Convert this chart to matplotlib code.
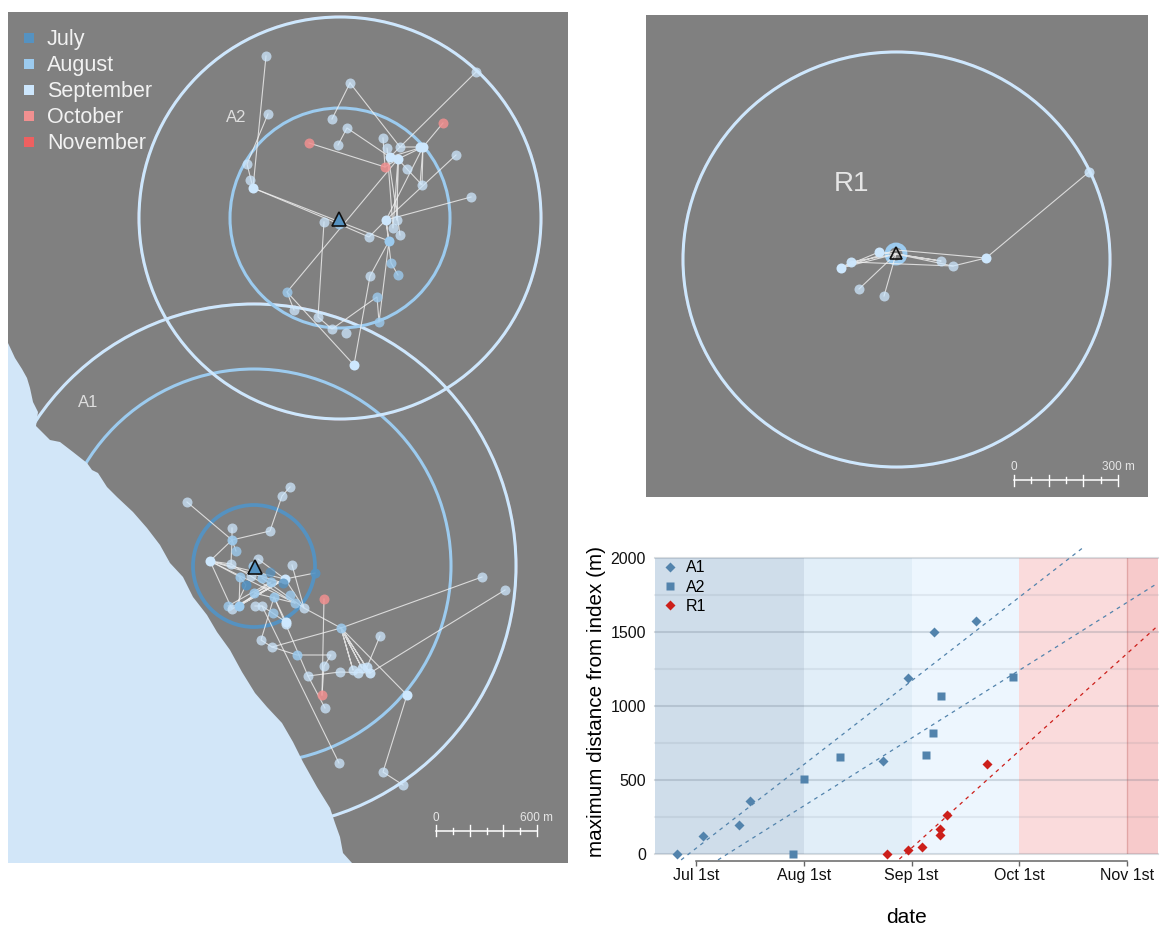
#! /usr/bin/env python3
# -*- Coding: UTF-8 -*-

import matplotlib
matplotlib.use("Agg")
import matplotlib.pyplot as plt
from matplotlib.patches import Circle, Ellipse, Polygon, Rectangle

plt.rcParams["font.family"] = ["Liberation Sans", "DejaVu Sans"]

W, H = 1162, 927

month_names = ["July", "August", "September", "October", "November"]
month_colors = ["#5592C1", "#9CCBEF", "#CDE7FD", "#F19090", "#EE6060"]
month_y = [38, 64, 90, 116, 142]

coast_x = [8, 15, 22, 27, 30, 33, 38, 36, 42, 50, 60, 73, 87, 92, 98, 107, 117, 133, 147, 160, 170, 183, 193, 207, 217,
           230, 242, 255, 267, 282, 293, 303, 317, 330, 335, 340, 343, 352, 8]
coast_y = [343, 358, 369, 378, 388, 402, 412, 426, 432, 440, 442, 452, 463, 470, 473, 487, 497, 512, 528, 545, 563, 577, 597, 615, 632,
           650, 672, 693, 707, 723, 742, 762, 787, 808, 823, 837, 853, 863, 863]

a2_x = [266, 268, 247, 250, 253, 350, 332, 347, 338, 309, 385, 443, 476, 383, 387, 390, 398, 400, 423, 420, 407, 422, 456, 471,
        386, 397, 393, 400, 324, 339, 369, 389, 391, 398, 370, 287, 377, 294, 318, 332, 346, 379, 354]
a2_y = [56, 114, 164, 180, 188, 83, 119, 128, 145, 143, 167, 123, 72, 138, 148, 157, 159, 147, 147, 147, 169, 185, 155, 197,
        220, 220, 228, 235, 222, 224, 237, 241, 263, 275, 276, 292, 297, 310, 317, 329, 333, 322, 365]
a2_month = [2, 2, 2, 2, 2, 2, 2, 2, 2, 3, 3, 3, 2, 2, 2, 2, 2, 2, 2, 2, 2, 2, 2, 2,
            2, 2, 2, 2, 2, 1, 2, 1, 1, 1, 2, 1, 1, 2, 2, 2, 2, 1, 2]
a2_alpha = [.75, .75, .75, .75, 1, .75, .75, .75, .75, .85, .85, .85, .75, .75, .75, 1, 1, .75, 1, 1, .75, .75, .75, .75,
            1, .75, .75, .75, .75, .8, .75, 1, .8, .8, .75, .8, .8, .75, .75, .75, .75, .8, 1]
a2_tracks = [
    [(266, 56), (253, 188), (389, 241), (370, 276), (354, 365), (287, 292), (398, 159), (385, 167), (309, 143)],
    [(268, 114), (247, 164), (253, 188), (339, 224), (369, 237), (386, 220), (456, 155)],
    [(287, 292), (294, 310)],
    [(324, 222), (318, 317), (332, 329), (377, 297), (379, 322), (389, 241), (386, 220), (391, 263), (398, 275)],
    [(350, 83), (332, 119)],
    [(350, 83), (400, 147), (476, 72)],
    [(338, 145), (347, 128), (390, 157), (423, 147), (443, 123)],
    [(383, 138), (385, 167)],
    [(390, 157), (400, 147), (423, 147), (398, 159), (397, 220), (398, 159), (393, 228), (387, 148), (400, 235)],
    [(471, 197), (386, 220), (423, 147), (422, 185), (407, 169), (398, 159)],
    [(423, 147), (420, 185)],
]

a1_x = [187, 290, 282, 270, 232, 232, 236, 210, 231, 258, 292, 253, 270, 240, 251, 262, 271, 285, 283, 246, 254, 290, 274, 295,
        304, 228, 232, 239, 255, 262, 273, 286, 286, 315, 261, 272, 341, 482, 505, 380, 331, 297, 324, 308, 340, 353, 358, 362,
        367, 370, 407, 325, 339, 383, 403, 324, 322]
a1_y = [502, 487, 496, 531, 528, 540, 551, 561, 564, 559, 565, 566, 572, 577, 576, 578, 582, 579, 583, 585, 593, 595, 597, 603,
        608, 606, 609, 606, 606, 606, 613, 622, 624, 573, 640, 647, 628, 577, 590, 636, 655, 655, 666, 676, 672, 670, 673, 668,
        667, 673, 695, 708, 763, 772, 785, 599, 695]
a1_month = [2, 2, 2, 2, 2, 1, 1, 2, 2, 2, 2, 1, 0, 1, 2, 1, 1, 2, 0, 0, 1, 1, 1, 1,
            2, 1, 2, 1, 2, 2, 1, 2, 2, 0, 2, 2, 1, 2, 2, 2, 2, 1, 2, 2, 2, 2, 2, 2,
            2, 2, 2, 2, 2, 2, 2, 3, 3]
a1_alpha = [.75, .75, .75, .75, .75, .9, .8, 1, .75, .75, .75, .9, .7, .85, .75, .85, .85, 1, .8, .9, .85, .8, .85, .8,
            .75, .8, .75, 1, .75, .75, .8, 1, .85, .9, .75, .75, .85, .75, .75, .75, .75, .85, .75, .75, .75, .8, .8, .85,
            .85, .9, 1, .75, .75, .75, .75, .85, .85]
a1_tracks = [
    [(187, 502), (232, 540), (270, 531), (282, 496), (290, 487)],
    [(232, 528), (232, 540), (231, 564)],
    [(236, 551), (232, 540), (210, 561), (285, 579), (239, 606), (285, 579), (232, 609), (210, 561), (283, 583)],
    [(210, 561), (240, 577), (239, 606), (271, 582), (228, 606)],
    [(240, 577), (246, 585), (236, 606), (285, 579), (315, 573)],
    [(258, 559), (285, 579), (254, 593), (295, 603), (231, 564), (210, 561), (295, 603)],
    [(292, 565), (304, 608), (341, 628), (482, 577)],
    [(341, 628), (272, 647), (261, 640), (274, 597), (308, 676), (325, 708)],
    [(308, 676), (340, 672), (370, 673), (505, 590)],
    [(272, 647), (297, 655), (331, 655), (324, 666), (322, 695)],
    [(285, 579), (304, 608), (262, 578)],
    [(255, 606), (262, 606), (339, 763)],
    [(274, 597), (286, 622), (262, 606)],
    [(341, 628), (353, 670), (341, 628), (362, 668), (341, 628), (370, 673), (341, 628), (407, 695), (383, 772), (403, 785)],
    [(380, 636), (367, 667)],
    [(324, 599), (322, 695)],
]

r1_x = [841, 851, 879, 941, 953, 986, 1089, 859, 884]
r1_y = [268, 262, 252, 261, 266, 258, 172, 289, 296]
r1_month = [2, 2, 2, 2, 2, 2, 2, 2, 2]
r1_alpha = [1, .95, 1, .75, .75, 1, .85, .75, .75]
r1_tracks = [
    [(986, 258), (1089, 172)],
    [(841, 268), (879, 252), (896, 254), (841, 268), (851, 262), (896, 254), (941, 261), (896, 254), (953, 266), (986, 258), (896, 250), (841, 268)],
    [(851, 262), (953, 266)],
    [(859, 289), (896, 254), (884, 296)],
]

# chart values, x is days after July 1st with every month drawn the same width
month_days = [-11.7, 31, 62, 93, 124, 132.7]
band_colors = ["#CFDDEA", "#E1EEF8", "#EDF6FE", "#FADBDC", "#F7CACB"]
tick_days = [0, 31, 62, 93, 124]
tick_names = ["Jul 1st", "Aug 1st", "Sep 1st", "Oct 1st", "Nov 1st"]

a1_day = [-5.3, 2.1, 12.4, 15.6, 53.8, 61, 68.3, 80.6]
a1_dist = [0, 120, 195, 360, 627, 1190, 1502, 1575]
a2_day = [27.9, 31, 41.4, 66.1, 68.1, 70.4, 91.1]
a2_dist = [0, 507, 656, 670, 818, 1071, 1198]
r1_day = [54.8, 61, 65, 70.2, 70.2, 72.3, 83.6]
r1_dist = [0, 25, 48, 128, 169, 264, 611]

a1_fit_day = [-4.2, 111.9]
a1_fit_dist = [-40, 2084]
a2_fit_day = [6.4, 132.7]
a2_fit_dist = [-40, 1832]
r1_fit_day = [58.5, 132.7]
r1_fit_dist = [-34, 1543]

BLUE = "#5283AC"
RED = "#CC1F1A"
LAND = "#808080"
SEA = "#D2E6F8"
LABEL = "#DEDEDE"


def px_axes(left, top, right, bottom):
    ax = fig.add_axes([left / W, 1 - bottom / H, (right - left) / W, (bottom - top) / H])
    return ax


def map_axes(left, top, right, bottom):
    ax = px_axes(left, top, right, bottom)
    ax.set_xlim(left, right)
    ax.set_ylim(bottom, top)
    ax.set_facecolor(LAND)
    ax.set_xticks([])
    ax.set_yticks([])
    for s in ax.spines.values():
        s.set_visible(False)
    return ax


def ring(ax, x, y, r, month, ry=None):
    if month == 2:
        # the october ring sits right behind the september one
        ax.add_patch(Ellipse((x, y), 2 * r + 2, 2 * (ry or r) + 2, fill=False, ec=month_colors[3], lw=0.6, alpha=0.6, zorder=2))
    ax.add_patch(Ellipse((x, y), 2 * r, 2 * (ry or r), fill=False, ec=month_colors[month],
                         lw=2.7 if month == 0 else 2.2, zorder=2))


def draw_track(ax, xs, ys, months, alphas, tracks):
    for t in tracks:
        ax.plot([p[0] for p in t], [p[1] for p in t], color="#F2F2F2", lw=0.8, alpha=0.8, zorder=3.5)
    for x, y, m, a in zip(xs, ys, months, alphas):
        ax.plot(x, y, "o", ms=7.2, mfc=month_colors[m], mec="none", alpha=a, zorder=4)


def scale_bar(ax, x0, x1, y, label):
    step = (x1 - x0) / 6
    ax.plot([x0, x1], [y, y], color="white", lw=1.1, zorder=6)
    for i in range(7):
        h = 5.5 if i % 2 == 0 else 3
        ax.plot([x0 + i * step] * 2, [y - h, y + h], color="white", lw=1.0, zorder=6)
    ax.text(x0, y - 13, "0", color="#E6E6E6", fontsize=8.5, ha="center", va="center")
    ax.text(x1, y - 13, label, color="#E6E6E6", fontsize=8.5, ha="center", va="center")


fig = plt.figure(figsize=(W / 100, H / 100), dpi=100)

# left map
ax = map_axes(8, 12, 568, 863)
ring(ax, 254, 566, 61, 0)
ring(ax, 254, 566, 197, 1)
ring(ax, 254, 566, 262, 2)
ax.add_patch(Polygon(list(zip(coast_x, coast_y)), closed=True, fc=SEA, ec="none", zorder=3))
ring(ax, 340, 218, 110, 1)
ring(ax, 340, 218, 201, 2)
draw_track(ax, a2_x, a2_y, a2_month, a2_alpha, a2_tracks)
draw_track(ax, a1_x, a1_y, a1_month, a1_alpha, a1_tracks)
ax.plot(339, 219, "^", ms=9.5, mfc=month_colors[0], mec="#111111", mew=1.2, zorder=7)
ax.plot(255, 567, "^", ms=9.5, mfc=month_colors[0], mec="#111111", mew=1.2, zorder=7)
ax.text(236, 117, "A2", color=LABEL, fontsize=12, ha="center", va="center", zorder=7)
ax.text(88, 402, "A1", color=LABEL, fontsize=12, ha="center", va="center", zorder=7)
for name, color, y in zip(month_names, month_colors, month_y):
    ax.add_patch(Rectangle((24, y - 5), 10, 10, fc=color, ec="none", zorder=7))
    ax.text(47, y + 1.5, name, color="#F2F2F2", fontsize=15.5, ha="left", va="center", zorder=7)
scale_bar(ax, 436, 537, 830.5, "600 m")

# right map
ax = map_axes(646, 15, 1148, 497)
ring(ax, 896.5, 259.5, 213.5, 2, ry=207.5)
ax.add_patch(Circle((896, 254), 9, fill=False, ec=month_colors[1], lw=3.5, zorder=3))
draw_track(ax, r1_x, r1_y, r1_month, r1_alpha, r1_tracks)
ax.plot(896, 253, "^", ms=8.5, mfc="none", mec="#111111", mew=1.2, zorder=7)
ax.text(851, 184, "R1", color="#E6E6E6", fontsize=20, ha="center", va="center", zorder=7)
scale_bar(ax, 1014, 1118, 480, "300 m")

# distance chart
ax = px_axes(655, 558.3, 1157.7, 854)
ax.set_xlim(month_days[0], month_days[-1])
ax.set_ylim(0, 2000)
for i, color in enumerate(band_colors):
    ax.axvspan(month_days[i], month_days[i + 1], fc=color, ec="none", zorder=0)
ax.axvline(124, color="#B05050", lw=1, alpha=0.3, zorder=1)
for y in range(0, 2001, 250):
    major = y % 500 == 0
    ax.axhline(y, color="#5A6A7A", lw=1.5, alpha=0.22 if major else 0.1, zorder=1, clip_on=False)
ax.plot(a1_fit_day, a1_fit_dist, color=BLUE, lw=0.9, dashes=(3, 3.5), clip_on=False, zorder=2)
ax.plot(a2_fit_day, a2_fit_dist, color=BLUE, lw=0.9, dashes=(3, 3.5), clip_on=False, zorder=2)
ax.plot(r1_fit_day, r1_fit_dist, color=RED, lw=0.9, dashes=(3, 3.5), clip_on=False, zorder=2)
ax.plot(a1_day, a1_dist, "D", color=BLUE, ms=5.5, mec="none", label="A1", clip_on=False, zorder=3)
ax.plot(a2_day, a2_dist, "s", color=BLUE, ms=6.2, mec="none", label="A2", clip_on=False, zorder=3)
ax.plot(r1_day, r1_dist, "D", color=RED, ms=5.5, mec="none", label="R1", clip_on=False, zorder=3)
ax.legend(loc="upper left", bbox_to_anchor=(0.014, 0.993), frameon=False, fontsize=11.5, handlelength=1,
          labelspacing=0.27, handletextpad=0.5, borderpad=0, borderaxespad=0)

for s in ["top", "left", "right"]:
    ax.spines[s].set_visible(False)
ax.spines["bottom"].set_position(("outward", 5))
ax.spines["bottom"].set_bounds(tick_days[0], tick_days[-1])
ax.spines["bottom"].set_color("#666666")
ax.spines["bottom"].set_linewidth(1.1)
ax.set_xticks(tick_days)
ax.set_xticklabels(tick_names, fontsize=11.5, color="#111111")
ax.tick_params(axis="x", length=3.5, width=1.0, color="#666666", pad=1.8)
ax.set_yticks([0, 500, 1000, 1500, 2000])
ax.tick_params(axis="y", length=0, pad=6.5, labelsize=11.5, labelcolor="#111111")
ax.set_xlabel("date", fontsize=15, labelpad=18)
ax.set_ylabel("maximum distance from index (m)", fontsize=14.9, labelpad=3, y=0.517)

fig.savefig("out.png", dpi=100)
